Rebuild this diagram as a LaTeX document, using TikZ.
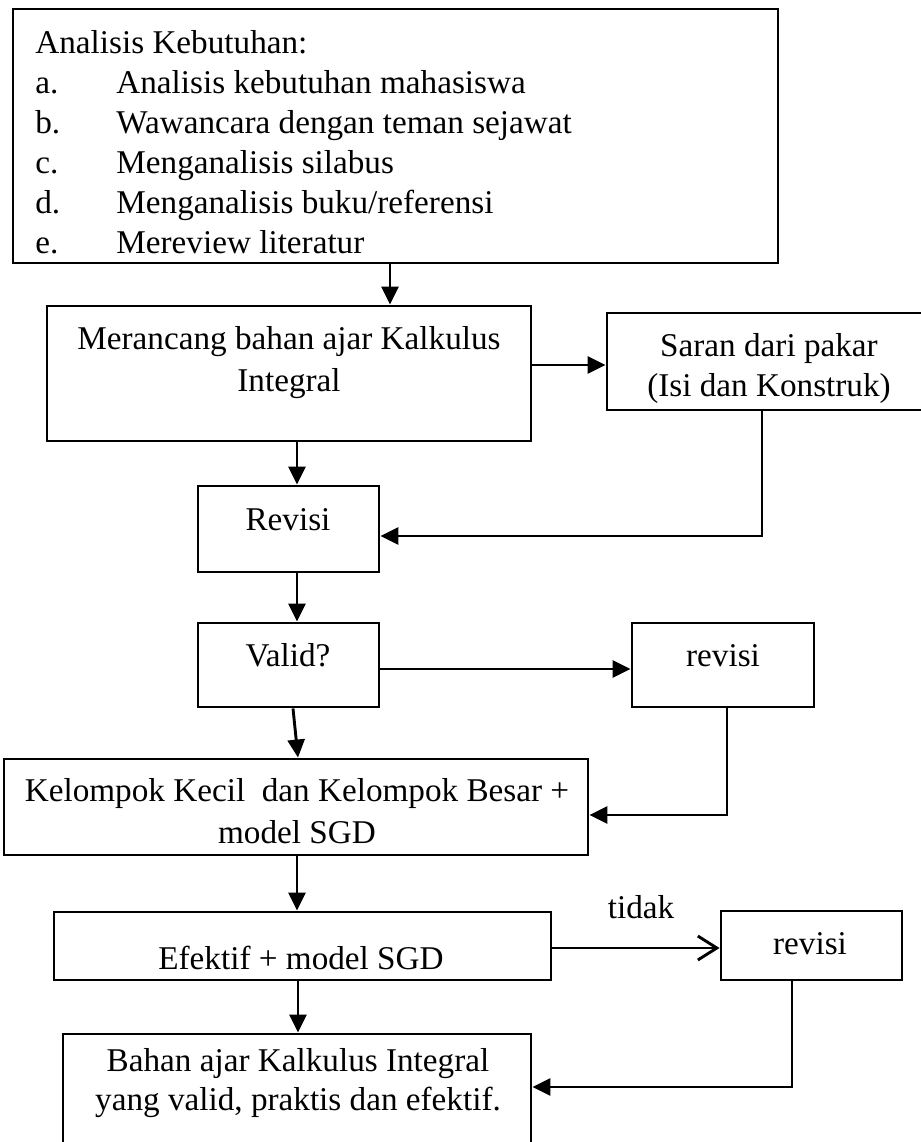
\documentclass[tikz,border=0pt]{standalone}
\usepackage{fontspec}
\setmainfont{Liberation Serif}
\usetikzlibrary{positioning,arrows.meta,calc}
\tikzset{
  box/.style={draw, line width=1.45pt, inner sep=0pt},
  arr/.style={line width=1.45pt, -{Triangle[length=9pt, width=8.5pt]}},
  barb/.style={line width=1.45pt, -{Straight Barb[length=9.5pt, width=12pt, line width=1.45pt]}},
  txt/.style={anchor=base, inner sep=0pt}}

\begin{document}
\begin{tikzpicture}[x=0.5pt, y=-0.5pt, font=\fontsize{16.6}{20}\selectfont]
\useasboundingbox (0,0) rectangle (921,1142);
\clip (0,0) rectangle (921,1142);
% boxes (centres in px, sizes in pt)
\node[box, minimum width=382.5pt, minimum height=127pt] (analisis) at (395.5,136) {};
\node[box, minimum width=242pt, minimum height=67.5pt] (merancang) at (289,373.5) {};
\node[box, minimum width=162pt, minimum height=48.5pt] (saran) at (769,361.5) {};
\node[box, minimum width=90.5pt, minimum height=43pt] (revisi) at (288.5,529) {};
\node[box, minimum width=90.5pt, minimum height=42pt] (valid) at (288.5,665) {};
\node[box, minimum width=91pt, minimum height=42pt] (revisia) at (723,665) {};
\node[box, minimum width=292pt, minimum height=48pt] (kelompok) at (296,807) {};
\node[box, minimum width=248.5pt, minimum height=34pt] (efektif) at (302.5,946) {};
\node[box, minimum width=90.5pt, minimum height=34.5pt] (revisib) at (811.5,945.5) {};
\node[box, minimum width=234pt, minimum height=63pt] (bahan) at (297,1097) {};
% texts
\node[txt, anchor=base west] (head) at (35,53) {Analisis Kebutuhan:};
\foreach \k/\t [count=\i] in {a./{Analisis kebutuhan mahasiswa}, b./{Wawancara dengan teman sejawat},
    c./{Menganalisis silabus}, d./{Menganalisis buku/referensi}, e./{Mereview literatur}} {
  \node[txt, anchor=base west] (key-\i) at (35,53+40*\i) {\k};
  \node[txt, anchor=base west] (item-\i) at (116,53+40*\i) {\t};}
\foreach \t [count=\i from 0] in {Merancang bahan ajar Kalkulus, Integral}
  \node[txt] (mer-\i) at (289,349+42*\i) {\t};
\foreach \t [count=\i from 0] in {Saran dari pakar, (Isi dan Konstruk)}
  \node[txt] (sar-\i) at (769,356+40*\i) {\t};
\node[txt] (rev-t) at (288,530) {Revisi};
\node[txt] (val-t) at (288,666) {Valid?};
\node[txt] (reva-t) at (723,666) {revisi};
\foreach \t [count=\i from 0] in {Kelompok Kecil~ dan Kelompok Besar +, model SGD}
  \node[txt] (kel-\i) at (297,801+42*\i) {\t};
\node[txt] (efe-t) at (301,969) {Efektif + model SGD};
\node[txt] (revb-t) at (810,954) {revisi};
\foreach \t [count=\i from 0] in {Bahan ajar Kalkulus Integral, {yang valid, praktis dan efektif.}}
  \node[txt] (bah-\i) at (298,1071+39*\i) {\t};
% connectors
\draw[arr] (analisis.south -| 390,0) -- (merancang.north -| 390,0);
\draw[arr] (merancang.east |- 0,365) -- (saran.west |- 0,365);
\draw[arr] (merancang.south -| 297,0) -- (revisi.north -| 297,0);
\draw[arr] (saran.south -| 762,0) |- (revisi.east |- 0,536);
\draw[arr] (revisi.south -| 297,0) -- (valid.north -| 297,0);
\draw[arr] (valid.east |- 0,669) -- (revisia.west |- 0,669);
\draw[arr] (valid.south -| 293,0) -- (kelompok.north -| 298,0);
\draw[arr] (revisia.south -| 727,0) |- (kelompok.east |- 0,815);
\draw[arr] (kelompok.south -| 297,0) -- (efektif.north -| 297,0);
\draw[barb] (efektif.east |- 0,948) -- node[txt, pos=0.53, yshift=15pt] (tidak) {tidak} (revisib.west |- 0,948);
\draw[arr] (efektif.south -| 298,0) -- (bahan.north -| 298,0);
\draw[arr] (revisib.south -| 792,0) |- (bahan.east |- 0,1087);
\end{tikzpicture}
\end{document}
